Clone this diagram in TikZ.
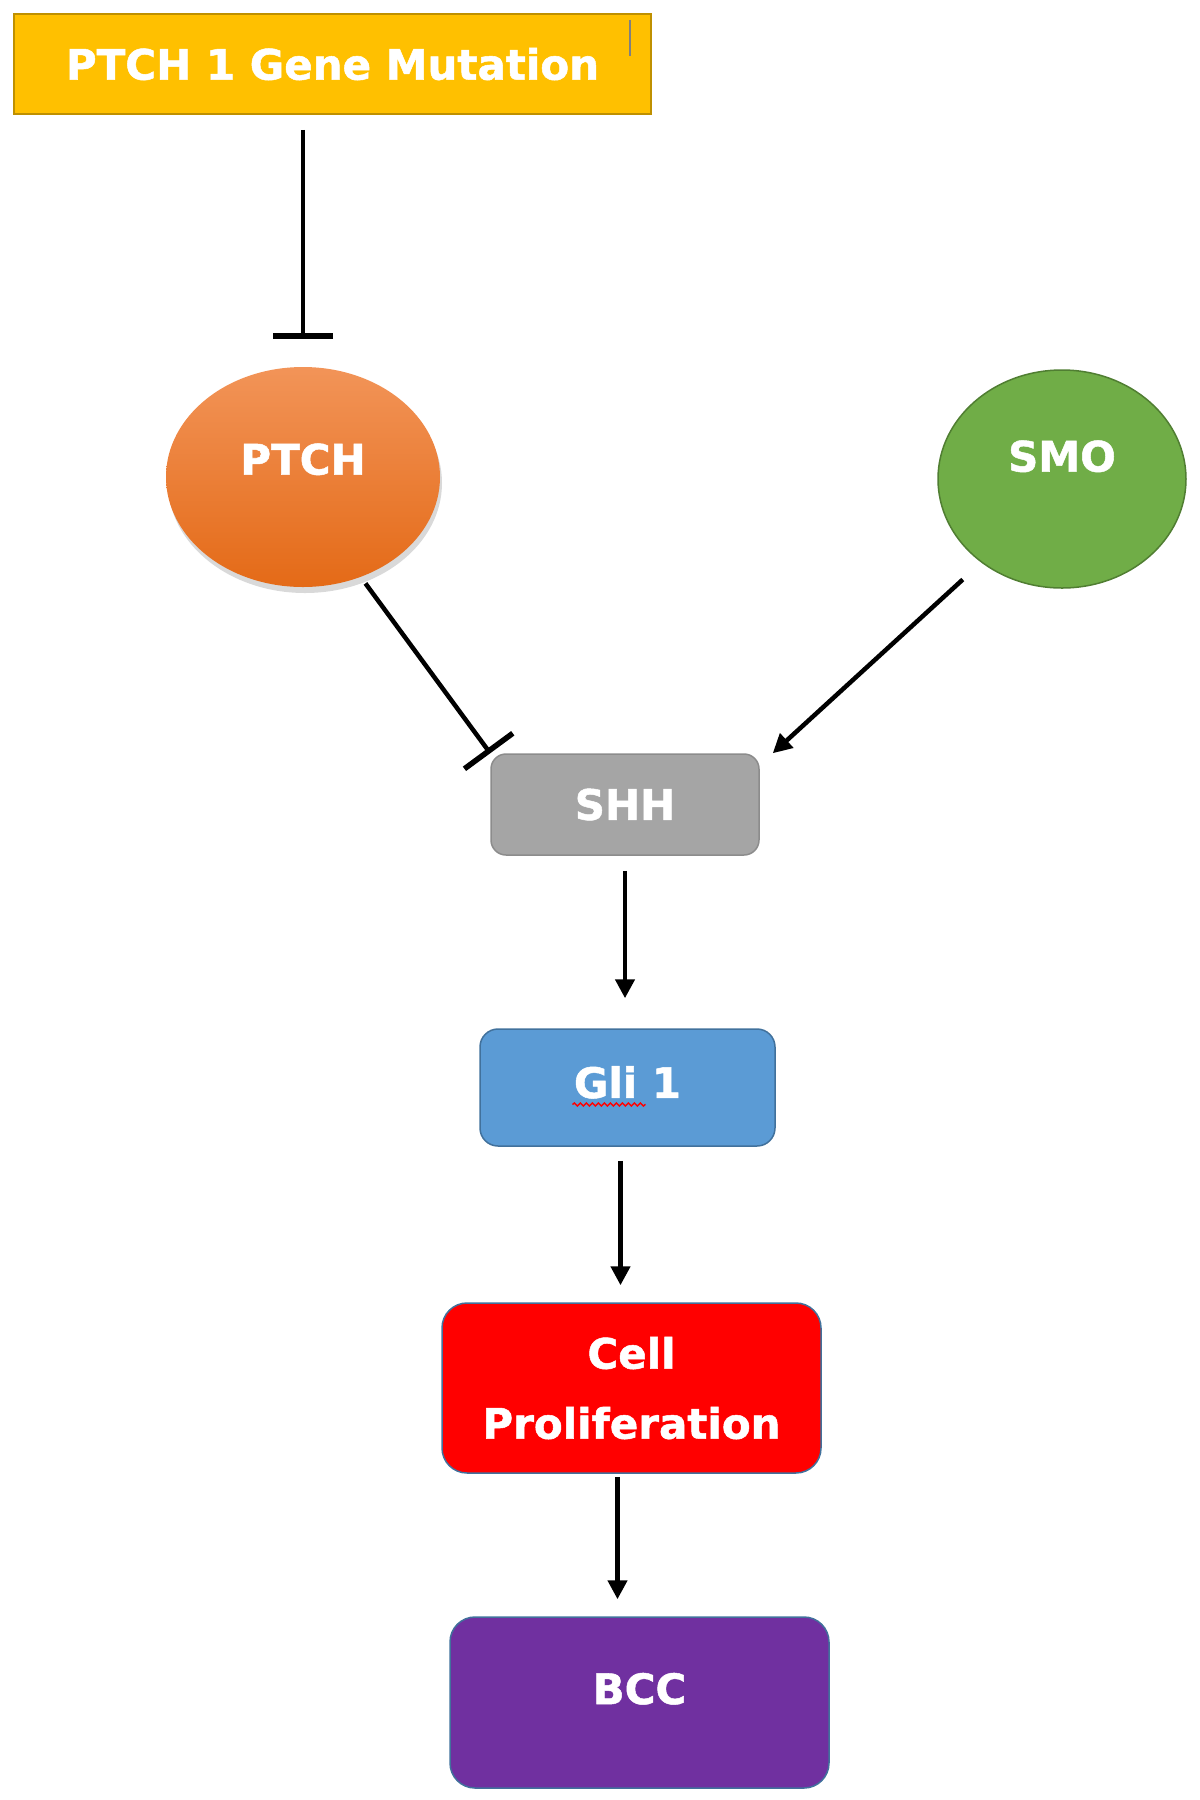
\documentclass[tikz,border=0pt]{standalone}
\usepackage{fontspec}
\setmainfont{DejaVu Sans}[BoldFeatures={FakeBold=1.2}]
\usetikzlibrary{arrows.meta,positioning,shapes.geometric,shadows,decorations.pathmorphing}

\definecolor{mutGold}{HTML}{FFC000}
\definecolor{mutEdge}{HTML}{BF9000}
\definecolor{ptchTop}{HTML}{F29458}
\definecolor{ptchBot}{HTML}{E46A17}
\definecolor{smoGreen}{HTML}{70AD47}
\definecolor{smoEdge}{HTML}{507E32}
\definecolor{shhGray}{HTML}{A5A5A5}
\definecolor{shhEdge}{HTML}{8C8C8C}
\definecolor{gliBlue}{HTML}{5B9BD5}
\definecolor{boxEdge}{HTML}{41719C}
\definecolor{bccPurple}{HTML}{7030A0}

\begin{document}
\begin{tikzpicture}[
  x=1pt, y=-1pt,
  font=\fontsize{42}{70}\selectfont\bfseries,
  >={Triangle[length=19pt, width=19pt]},
  gene/.style={rectangle, draw=mutEdge, line width=1.5pt, fill=mutGold, text=white,
               minimum width=637pt, minimum height=100pt, inner sep=0pt},
  receptor/.style={ellipse, text=white, inner sep=0pt},
  stagebox/.style={rectangle, rounded corners=18pt, line width=1.5pt, draw=boxEdge,
                   text=white, inner sep=0pt, align=center},
  arr/.style={->, line width=4.5pt, draw=black},
  inhibit/.style={-{Bar[width=60pt, line width=5.5pt]}, line width=4.5pt, draw=black}
]
\useasboundingbox (0,0) rectangle (1200,1800);

% Gene mutation
\node[gene] (mutation) at (332.5,64) {PTCH 1 Gene Mutation};
\draw[draw=gray, line width=2pt] ([xshift=-22pt,yshift=-7pt]mutation.north east) -- ++(0,36);

% Receptors
\node[receptor, minimum width=274pt, minimum height=220pt, top color=ptchTop, bottom color=ptchBot,
      drop shadow={shadow xshift=2pt, shadow yshift=-6pt, opacity=0.3}]
  (ptch) at (303,477) {\raisebox{36pt}{PTCH}};
\node[receptor, minimum width=248pt, minimum height=218pt, fill=smoGreen, draw=smoEdge, line width=1.5pt]
  (smo) at (1062,479) {\raisebox{46pt}{SMO}};

% Pathway boxes
\node[stagebox, minimum width=268pt, minimum height=101pt, rounded corners=15pt, fill=shhGray, draw=shhEdge]
  (shh) at (625,804.5) {SHH};
\node[stagebox, minimum width=295pt, minimum height=117pt, fill=gliBlue]
  (gli) at (627.5,1087.5) {\raisebox{11pt}{Gli 1}};
\draw[red, line width=1.5pt, decorate, decoration={snake, amplitude=1.5pt, segment length=6pt}]
  ([xshift=-55pt,yshift=-17pt]gli.center) -- ([xshift=18pt,yshift=-17pt]gli.center);
\node[stagebox, minimum width=379pt, minimum height=170pt, rounded corners=25pt, fill=red]
  (cell) at (631.5,1388) {Cell\\Proliferation};
\node[stagebox, minimum width=379pt, minimum height=171pt, rounded corners=25pt, fill=bccPurple]
  (bcc) at (639.5,1702.5) {\raisebox{28pt}{BCC}};

% Connectors
\draw[inhibit, shorten <=15pt, shorten >=28pt] (mutation.south -| ptch.north) -- (ptch.north);
\draw[inhibit, shorten <=8pt] (ptch.-60) -- (shh.north west);
\draw[arr, shorten <=25pt] (smo.-134) -- ([xshift=13pt]shh.north east);
\draw[arr, shorten <=15pt, shorten >=30pt] (shh.south) -- (shh.south |- gli.north);
\draw[arr, shorten <=14pt, shorten >=17pt] ([xshift=-7pt]gli.south) -- ([xshift=-7pt]gli.south |- cell.north);
\draw[arr, shorten <=3pt, shorten >=17pt] ([xshift=-14pt]cell.south) -- ([xshift=-14pt]cell.south |- bcc.north);

\end{tikzpicture}
\end{document}
